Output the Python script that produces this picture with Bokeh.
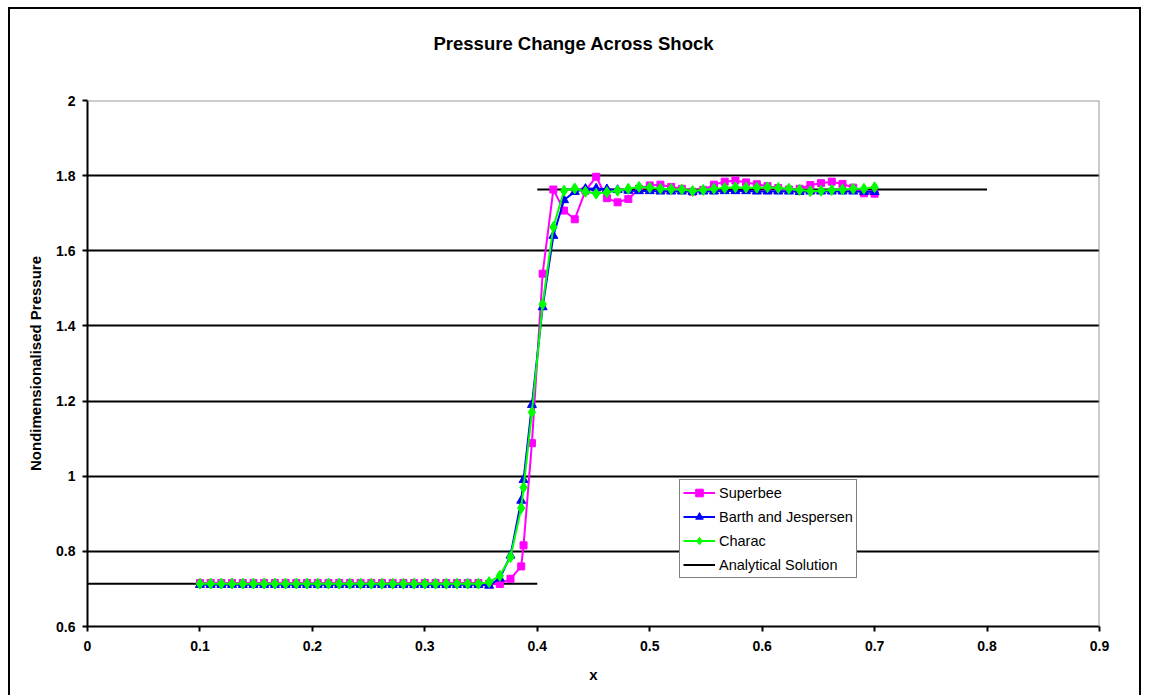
import numpy as np
from bokeh.plotting import figure
from bokeh.models import (Range1d, FixedTicker, CustomJSTickFormatter, Legend,
                          LegendItem, Span, Title)
from bokeh.embed import file_html
from bokeh.resources import INLINE

# Node positions along the tube (note the extra node just behind the shock)
x_pos = [0.1, 0.10952, 0.11905, 0.12857, 0.1381, 0.14762, 0.15714, 0.16667,
         0.17619, 0.18571, 0.19524, 0.20476, 0.21429, 0.22381, 0.23333, 0.24286,
         0.25238, 0.2619, 0.27143, 0.28095, 0.29048, 0.3, 0.30952, 0.31905,
         0.32857, 0.3381, 0.34762, 0.35714, 0.36667, 0.37619, 0.38571, 0.3878,
         0.39524, 0.40476, 0.41429, 0.42381, 0.43333, 0.44286, 0.45238, 0.4619,
         0.47143, 0.48095, 0.49048, 0.5, 0.50952, 0.51905, 0.52857, 0.5381,
         0.54762, 0.55714, 0.56667, 0.57619, 0.58571, 0.59524, 0.60476, 0.61429,
         0.62381, 0.63333, 0.64286, 0.65238, 0.6619, 0.67143, 0.68095, 0.69048, 0.7]

superbee = [0.716] * 27 + [
    0.714, 0.713, 0.727, 0.760, 0.816, 1.088, 1.539, 1.763, 1.707, 1.684,
    1.760, 1.797, 1.740, 1.729, 1.738, 1.765, 1.774, 1.776, 1.770, 1.765,
    1.757, 1.762, 1.776, 1.784, 1.787, 1.782, 1.777, 1.772, 1.767, 1.763,
    1.765, 1.775, 1.780, 1.784, 1.778, 1.768, 1.753, 1.752]

barth = [0.711] * 27 + [
    0.709, 0.728, 0.789, 0.935, 0.990, 1.190, 1.450, 1.640, 1.735, 1.757,
    1.765, 1.766, 1.764, 1.762, 1.760, 1.759, 1.759, 1.758, 1.758, 1.758,
    1.757, 1.758, 1.758, 1.759, 1.759, 1.759, 1.758, 1.758, 1.758, 1.758,
    1.757, 1.758, 1.758, 1.758, 1.758, 1.758, 1.757, 1.757]

charac = [0.714] * 27 + [
    0.718, 0.735, 0.785, 0.915, 0.970, 1.170, 1.458, 1.663, 1.760, 1.766,
    1.757, 1.752, 1.756, 1.760, 1.765, 1.770, 1.768, 1.765, 1.764, 1.763,
    1.759, 1.762, 1.765, 1.767, 1.769, 1.768, 1.768, 1.769, 1.767, 1.765,
    1.762, 1.759, 1.760, 1.762, 1.763, 1.765, 1.765, 1.769]

# Exact solution: upstream and downstream pressure, jump at x = 0.4
exact_x = [0.0, 0.4, np.nan, 0.4, 0.8]
exact_p = [0.714, 0.714, np.nan, 1.763, 1.763]

x_ticks = [0.0, 0.1, 0.2, 0.3, 0.4, 0.5, 0.6, 0.7, 0.8, 0.9]
y_ticks = [0.6, 0.8, 1.0, 1.2, 1.4, 1.6, 1.8, 2.0]
grid_ticks = [0.8, 1.0, 1.2, 1.4, 1.6, 1.8]

FONT = "Liberation Sans"

p = figure(width=1133, height=688, output_backend="svg", toolbar_location=None,
           x_range=Range1d(0, 0.9), y_range=Range1d(0.6, 2.0),
           min_border_left=77, min_border_right=44,
           min_border_top=91, min_border_bottom=71,
           title=None)
p.outline_line_color = None
p.background_fill_color = "white"
p.border_fill_color = "white"

# black frame around the whole chart area
p.styles = {"margin-left": "8px", "margin-top": "7px",
            "border-top": "2px solid black", "border-left": "2px solid black",
            "border-right": "2px solid black"}

# gap between the plot area and the chart title
p.add_layout(Title(text=" ", text_font_size="1px", standoff=44), "above")
p.add_layout(Title(text="Pressure Change Across Shock", text_font=FONT,
                   text_font_style="bold", text_font_size="18.5px",
                   text_color="black", align="left", offset=346, standoff=0),
             "above")

fmt = CustomJSTickFormatter(code="return tick.toString();")

for ax, ticks in ((p.xaxis, x_ticks), (p.yaxis, y_ticks)):
    ax.ticker = FixedTicker(ticks=ticks)
    ax.formatter = fmt
    ax.axis_line_color = "black"
    ax.axis_line_width = 2
    ax.major_tick_line_color = "black"
    ax.major_tick_line_width = 2
    ax.major_tick_out = 5
    ax.major_tick_in = 0
    ax.minor_tick_line_color = None
    ax.major_label_text_font = FONT
    ax.major_label_text_font_style = "bold"
    ax.major_label_text_font_size = "14px"
    ax.major_label_text_color = "black"
    ax.axis_label_text_font = FONT
    ax.axis_label_text_font_style = "bold"
    ax.axis_label_text_color = "black"

p.xaxis.axis_label = "x"
p.xaxis.axis_label_text_font_size = "15px"
p.xaxis.major_label_standoff = 9
p.xaxis.axis_label_standoff = 12
p.yaxis.axis_label = "Nondimensionalised Pressure"
p.yaxis.axis_label_text_font_size = "15px"
p.yaxis.major_label_standoff = 7
p.yaxis.axis_label_standoff = 9

p.xgrid.grid_line_color = None
p.ygrid.ticker = FixedTicker(ticks=grid_ticks)
p.ygrid.grid_line_color = "black"
p.ygrid.grid_line_width = 2

# plot-area edges on the top and right
p.add_layout(Span(location=2.0, dimension="width", line_color="#9a9a9a", line_width=2))
p.add_layout(Span(location=0.9, dimension="height", line_color="#9a9a9a", line_width=2))

r_exact = p.line(exact_x, exact_p, line_color="black", line_width=2)

sb_line = p.line(x_pos, superbee, line_color="#FF00FF", line_width=2)
sb_pts = p.scatter(x_pos, superbee, marker="square", size=7,
                   fill_color="#FF00FF", line_color="#FF00FF")
bj_line = p.line(x_pos, barth, line_color="#0000FF", line_width=2)
bj_pts = p.scatter(x_pos, barth, marker="triangle", size=9,
                   fill_color="#0000FF", line_color="#0000FF")
ch_line = p.line(x_pos, charac, line_color="#00FF00", line_width=2)
ch_pts = p.scatter(x_pos, charac, marker="diamond", size=11,
                   fill_color="#00FF00", line_color="#00FF00")

legend = Legend(items=[
    LegendItem(label="Superbee", renderers=[sb_line, sb_pts]),
    LegendItem(label="Barth and Jespersen", renderers=[bj_line, bj_pts]),
    LegendItem(label="Charac", renderers=[ch_line, ch_pts]),
    LegendItem(label="Analytical Solution", renderers=[r_exact]),
], location=(592, 48))
legend.label_text_font = FONT
legend.label_text_font_size = "14.5px"
legend.label_text_color = "black"
legend.padding = 3
legend.spacing = 5
legend.glyph_height = 19
legend.label_height = 19
legend.glyph_width = 32
legend.label_standoff = 4
legend.margin = 0
legend.border_line_color = "black"
legend.border_line_width = 1.5
legend.background_fill_color = "white"
legend.background_fill_alpha = 1
p.add_layout(legend)

open("out.html", "w").write(file_html(p, INLINE))
